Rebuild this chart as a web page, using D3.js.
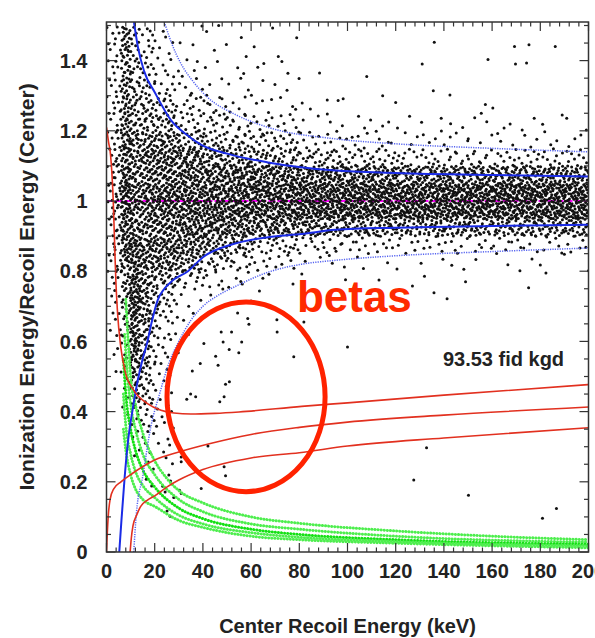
<!DOCTYPE html>
<meta charset="utf-8">
<title>Ionization yield vs recoil energy</title>
<style>
  body { margin: 0; background: #fff; }
  text { font-family: "Liberation Sans", Arial, Helvetica, sans-serif; }
  .tick-label { font-size: 20px; font-weight: bold; fill: #222; }
  .axis-title { font-size: 20px; font-weight: bold; fill: #222; }
</style>
<body>
<svg width="595" height="638"></svg>
<script src="https://d3js.org/d3.v7.min.js"></script>
<script>

  // axis ticks
  var xTicks = [0, 20, 40, 60, 80, 100, 120, 140, 160, 180, 200];
  var yTicks = [0, 0.2, 0.4, 0.6, 0.8, 1, 1.2, 1.4];

  // electron recoil band, +-2 sigma (solid) and +-3 sigma (dotted): [keV, yield]
  var erUpper2 = [[11.4,1.51],[13,1.44],[15.6,1.37],[20,1.31],[26.8,1.23],[33,1.19],[39.3,1.16],[50,1.135],[67,1.11],[95,1.087],[120,1.08],[160,1.074],[200,1.07]];
  var erLower2 = [[5.3,0],[6.2,0.09],[7.5,0.21],[9,0.32],[10.7,0.4],[13,0.49],[15,0.55],[17,0.6],[18.6,0.65],[21.2,0.717],[24,0.75],[27.5,0.774],[33.8,0.8],[40,0.84],[53,0.878],[67,0.897],[81,0.906],[95,0.918],[120,0.924],[160,0.929],[200,0.932]];
  var erUpper3 = [[24,1.51],[27,1.45],[31,1.39],[36,1.34],[42,1.295],[53,1.248],[67,1.21],[95,1.177],[120,1.163],[160,1.15],[200,1.14]];
  var erLower3 = [[11.3,0],[12.4,0.11],[15,0.214],[18.4,0.357],[22,0.45],[26,0.54],[30,0.6],[35,0.66],[40,0.7],[46,0.73],[53,0.755],[67,0.797],[81,0.82],[95,0.831],[120,0.844],[160,0.856],[200,0.866]];

  // red cut lines
  var redTop = [[0,1.21],[0.8,1.17],[1.7,1.13],[2.8,1.0],[3.5,0.85],[3.9,0.77],[4.6,0.68],[5.9,0.585],[7.9,0.51],[11.4,0.46],[17,0.423],[22.6,0.404],[28,0.396],[35,0.393],[45,0.395],[55,0.399],[81,0.415],[100,0.425],[140,0.447],[200,0.477]];
  var redMid = [[0,0],[0.3,0.05],[0.7,0.1],[1.5,0.15],[3,0.18],[6,0.2],[11,0.225],[20,0.262],[30,0.285],[43.5,0.31],[60,0.335],[80,0.355],[100,0.37],[140,0.39],[200,0.413]];
  var redLow = [[9.8,0],[10.3,0.04],[11,0.075],[12.5,0.105],[14.2,0.13],[17,0.148],[20,0.16],[25,0.185],[30,0.205],[40,0.235],[60,0.268],[80,0.283],[100,0.302],[140,0.325],[200,0.354]];

  // nuclear recoil band strands (green)
  var nrBands = [
    [[8,0.72],[9,0.6],[10,0.5],[12,0.42],[15,0.34],[20,0.26],[25,0.21],[30,0.175],[40,0.14],[60,0.1],[80,0.082],[120,0.06],[160,0.045],[200,0.035]],
    [[7.5,0.62],[8.5,0.52],[10,0.42],[12,0.35],[15,0.28],[20,0.22],[30,0.15],[40,0.115],[60,0.08],[80,0.065],[120,0.045],[200,0.028]],
    [[7,0.55],[8,0.45],[10,0.35],[12,0.29],[15,0.235],[20,0.185],[30,0.125],[40,0.095],[60,0.065],[80,0.05],[120,0.035],[200,0.022]],
    [[7,0.45],[8,0.36],[10,0.28],[12,0.23],[15,0.19],[20,0.155],[30,0.105],[40,0.08],[60,0.055],[80,0.042],[120,0.03],[200,0.018]],
    [[7,0.35],[8,0.29],[10,0.22],[12,0.18],[15,0.15],[20,0.13],[30,0.09],[40,0.07],[60,0.045],[80,0.035],[120,0.025],[200,0.012]]
  ];

  // event counts per cell: columns in keV, rows of 0.05 in yield, top row first
  var eEdges = [0, 3, 6, 10, 14, 18, 22, 26, 30, 40, 50, 60, 80, 100, 120, 140, 160, 180, 200];
  var vTop = 1.5, vStep = 0.05;
  var counts = [
    [2, 3, 12, 6, 3, 3, 2, 1, 2, 2, 1, 2, 0, 0, 0, 0, 0, 0],
    [2, 3, 12, 6, 4, 3, 2, 1, 2, 2, 1, 2, 0, 0, 0, 0, 0, 0],
    [2, 3, 13, 7, 5, 3, 3, 2, 3, 2, 2, 4, 0, 0, 0, 0, 0, 0],
    [2, 3, 13, 8, 7, 4, 3, 3, 6, 3, 3, 5, 0, 0, 0, 0, 0, 0],
    [2, 4, 14, 9, 8, 6, 5, 5, 8, 8, 4, 7, 0, 0, 0, 0, 0, 0],
    [2, 4, 15, 10, 10, 10, 9, 7, 11, 11, 10, 12, 5, 5, 4, 4, 4, 4],
    [2, 4, 16, 12, 12, 12, 12, 12, 22, 18, 16, 25, 14, 10, 7, 7, 6, 6],
    [3, 5, 17, 13, 14, 15, 15, 15, 38, 30, 25, 40, 30, 25, 18, 18, 18, 18],
    [3, 5, 19, 14, 15, 16, 17, 17, 42, 42, 42, 85, 80, 75, 70, 70, 72, 72],
    [3, 6, 21, 15, 15, 17, 18, 18, 44, 46, 48, 100, 105, 110, 110, 110, 115, 115],
    [3, 6, 22, 15, 15, 17, 18, 18, 44, 46, 48, 100, 105, 110, 110, 110, 110, 110],
    [3, 5, 20, 17, 15, 16, 17, 17, 42, 42, 40, 70, 60, 55, 55, 55, 55, 55],
    [2, 5, 17, 19, 14, 15, 16, 16, 38, 30, 22, 28, 16, 14, 12, 12, 12, 12],
    [2, 4, 14, 20, 14, 14, 14, 13, 25, 14, 10, 12, 5, 3, 3, 3, 3, 3],
    [2, 3, 11, 21, 14, 11, 10, 8, 10, 6, 5, 3, 2, 2, 2, 1, 1, 1],
    [1, 3, 9, 21, 13, 8, 6, 4, 4, 2, 1, 1, 1, 1, 1, 1, 0, 0],
    [1, 2, 7, 20, 13, 6, 4, 3, 0, 0, 0, 0, 0, 0, 0, 0, 0, 0],
    [1, 2, 6, 19, 11, 5, 3, 2, 0, 0, 0, 0, 0, 0, 0, 0, 0, 0],
    [0, 2, 5, 17, 10, 4, 3, 2, 0, 0, 0, 0, 0, 0, 0, 0, 0, 0],
    [0, 1, 4, 15, 9, 4, 2, 1, 0, 0, 0, 0, 0, 0, 0, 0, 0, 0],
    [0, 1, 3, 12, 8, 3, 2, 1, 0, 0, 0, 0, 0, 0, 0, 0, 0, 0],
    [0, 0, 2, 8, 6, 3, 2, 1, 0, 0, 0, 0, 0, 0, 0, 0, 0, 0],
    [0, 0, 1, 4, 4, 3, 2, 1, 0, 0, 0, 0, 0, 0, 0, 0, 0, 0],
    [0, 0, 0, 2, 3, 2, 1, 1, 0, 0, 0, 0, 0, 0, 0, 0, 0, 0],
    [0, 0, 0, 2, 1, 1, 2, 1, 0, 0, 0, 0, 0, 0, 0, 0, 0, 0],
    [0, 0, 0, 0, 1, 1, 1, 1, 0, 0, 0, 0, 0, 0, 0, 0, 0, 0],
    [0, 0, 0, 0, 0, 1, 2, 1, 0, 0, 0, 0, 0, 0, 0, 0, 0, 0],
    [0, 0, 0, 0, 0, 0, 1, 1, 0, 0, 0, 0, 0, 0, 0, 0, 0, 0],
    [0, 0, 0, 0, 0, 0, 0, 0, 0, 0, 0, 0, 0, 0, 0, 0, 0, 0],
    [0, 0, 0, 0, 0, 0, 0, 0, 0, 0, 0, 0, 0, 0, 0, 0, 0, 0]
  ];

  // single events in the sparse regions: [keV, yield]
  var sparseHigh = [[136,1.452],[169.3,1.44],[175.3,1.445],[186.2,1.44],[169.7,1.39],[174.3,1.393],[158.3,1.403],[131,1.39],[108,1.355],[88.4,1.365],[135.6,1.314],[142.5,1.302],[114.6,1.3],[120,1.281],[91.6,1.288],[96.1,1.286],[98.2,1.291],[84.6,1.262],[81.2,1.279],[157.2,1.275],[160.3,1.265],[155.5,1.25]];
  var sparseLow = [[54.4,0.681],[58.6,0.665],[59.1,0.649],[70.7,0.662],[70.8,0.627],[47.6,0.627],[51.9,0.627],[56.1,0.598],[40.4,0.594],[48.4,0.598],[50.9,0.577],[54.9,0.568],[45.3,0.558],[38.9,0.537],[35.6,0.516],[46.3,0.532],[77.7,0.556],[51,0.485],[49.4,0.478],[34.9,0.45],[33.3,0.435],[37,0.442],[47,0.428],[48.8,0.442],[42.1,0.302],[48.8,0.243],[49.4,0.217],[81.9,0.655],[100,0.584],[132.8,0.297],[127.5,0.205],[150.2,0.162],[180.9,0.096],[186.7,0.124],[31,0.271],[31,0.257],[30.3,0.176],[31,0.167],[39.3,0.181],[32,0.66],[36,0.68],[34,0.62],[38,0.655]];

  var exposureLabel = "93.53 fid kgd";

  var svg = d3.select("svg"),
    margin = { top: 22, right: 6.5, bottom: 86, left: 106.5 },
    width = +svg.attr("width"),
    height = +svg.attr("height");

  var x = d3.scaleLinear().domain([0, 200]).range([margin.left, width - margin.right]);
  var y = d3.scaleLinear().domain([0, 1.51]).range([height - margin.bottom, margin.top]);

  svg.append("clipPath").attr("id", "plot-clip")
    .append("rect")
    .attr("x", x(0)).attr("y", y(1.51))
    .attr("width", x(200) - x(0)).attr("height", y(0) - y(1.51));

  var plot = svg.append("g").attr("clip-path", "url(#plot-clip)");

  var line = d3.line()
    .x(d => x(d[0]))
    .y(d => y(d[1]))
    .curve(d3.curveMonotoneX);

  // magenta line at yield 1 (behind the events)
  plot.append("path")
    .datum([[0, 1], [200, 1]])
    .attr("d", line)
    .attr("fill", "none")
    .attr("stroke", "#ff00ff")
    .attr("stroke-width", 2)
    .attr("stroke-dasharray", "7 2");

  // halton sequence, spreads each cell's events over the cell
  function halton(i, b) {
    var f = 1, r = 0;
    while (i > 0) { f /= b; r += f * (i % b); i = Math.floor(i / b); }
    return r;
  }

  var events = [];
  counts.forEach(function (row, ri) {
    var v1 = vTop - ri * vStep, v0 = v1 - vStep;
    row.forEach(function (n, ci) {
      var e0 = eEdges[ci], e1 = eEdges[ci + 1];
      var seed = (ri * 18 + ci) * 53 + 7;
      for (var k = 0; k < n; k++) {
        events.push([e0 + (e1 - e0) * halton(seed + k, 2), v0 + (v1 - v0) * halton(seed + k, 3)]);
      }
    });
  });
  events = events.concat(sparseHigh, sparseLow);

  plot.append("g")
    .selectAll("circle")
    .data(events)
    .enter().append("circle")
    .attr("cx", d => x(d[0]))
    .attr("cy", d => y(d[1]))
    .attr("r", 1.5)
    .attr("fill", "#111");

  // green nuclear recoil band
  nrBands.forEach(function (band, i) {
    plot.append("path")
      .datum(band)
      .attr("d", line)
      .attr("fill", "none")
      .attr("stroke", i == 2 ? "#14e014" : "#4eee4e")
      .attr("stroke-width", 3)
      .attr("stroke-linecap", "round")
      .attr("stroke-dasharray", "0.1 3");
  });

  // blue ER bands
  [erUpper2, erLower2].forEach(function (d) {
    plot.append("path").datum(d).attr("d", line)
      .attr("fill", "none").attr("stroke", "#1a2be6").attr("stroke-width", 2);
  });
  [erUpper3, erLower3].forEach(function (d) {
    plot.append("path").datum(d).attr("d", line)
      .attr("fill", "none").attr("stroke", "#5563f0").attr("stroke-width", 1.5)
      .attr("stroke-dasharray", "1.2 1.2");
  });

  // red lines
  [redTop, redMid, redLow].forEach(function (d) {
    plot.append("path").datum(d).attr("d", line)
      .attr("fill", "none").attr("stroke", "#e2301f").attr("stroke-width", 1.6);
  });

  // frame
  svg.append("rect")
    .attr("x", x(0)).attr("y", y(1.51))
    .attr("width", x(200) - x(0)).attr("height", y(0) - y(1.51))
    .attr("fill", "none").attr("stroke", "#333").attr("stroke-width", 1.5);

  // ticks on all four sides, pointing in
  var xMinor = d3.range(0, 201, 4);
  var yMinor = d3.range(0, 1.51, 0.05);
  var tickG = svg.append("g").attr("stroke", "#333").attr("stroke-width", 1.2);

  xMinor.forEach(function (t) {
    var len = t % 20 === 0 ? 9 : 4.5;
    tickG.append("line").attr("x1", x(t)).attr("x2", x(t)).attr("y1", y(0)).attr("y2", y(0) - len);
    tickG.append("line").attr("x1", x(t)).attr("x2", x(t)).attr("y1", y(1.51)).attr("y2", y(1.51) + len);
  });
  yMinor.forEach(function (t, i) {
    var len = i % 4 === 0 ? 9 : 4.5;
    tickG.append("line").attr("x1", x(0)).attr("x2", x(0) + len).attr("y1", y(t)).attr("y2", y(t));
    tickG.append("line").attr("x1", x(200)).attr("x2", x(200) - len).attr("y1", y(t)).attr("y2", y(t));
  });

  svg.append("g").selectAll("text")
    .data(xTicks)
    .enter().append("text")
    .attr("class", "tick-label")
    .attr("x", d => x(d))
    .attr("y", y(0) + 26)
    .attr("text-anchor", "middle")
    .text(d => d);

  svg.append("g").selectAll("text")
    .data(yTicks)
    .enter().append("text")
    .attr("class", "tick-label")
    .attr("x", x(0) - 19)
    .attr("y", d => y(d))
    .attr("dy", "0.36em")
    .attr("text-anchor", "end")
    .text(d => d);

  svg.append("text")
    .attr("class", "axis-title")
    .attr("x", (x(0) + x(200)) / 2)
    .attr("y", 633)
    .attr("text-anchor", "middle")
    .text("Center Recoil Energy (keV)");

  svg.append("text")
    .attr("class", "axis-title")
    .attr("transform", "translate(34," + (y(0) + y(1.51)) / 2 + ") rotate(-90)")
    .attr("text-anchor", "middle")
    .style("font-size", "21px")
    .text("Ionization Energy/Recoil Energy (Center)");

  svg.append("text")
    .attr("x", x(139.6))
    .attr("y", y(0.53))
    .style("font-size", "20px")
    .style("font-weight", "bold")
    .attr("fill", "#222")
    .text(exposureLabel);

  // betas annotation
  svg.append("ellipse")
    .attr("cx", x(57.9))
    .attr("cy", y(0.442))
    .attr("rx", x(57.9 + 32.8) - x(57.9))
    .attr("ry", y(0.442) - y(0.442 + 0.27))
    .attr("fill", "none")
    .attr("stroke", "#ff2200")
    .attr("stroke-width", 5);

  svg.append("text")
    .attr("x", x(79))
    .attr("y", y(0.683))
    .style("font-size", "44px")
    .style("font-weight", "bold")
    .attr("fill", "#ff2a00")
    .text("betas");

</script>
</body>
